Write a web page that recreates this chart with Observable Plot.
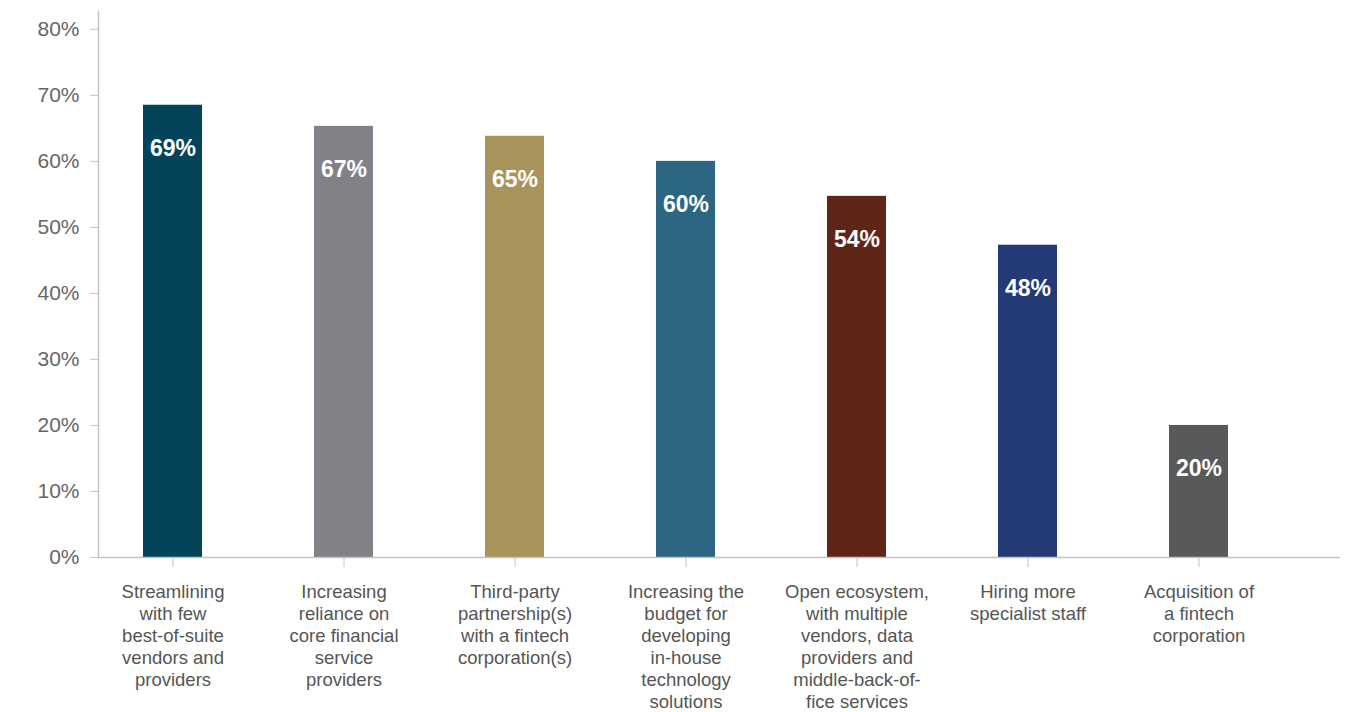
<!DOCTYPE html>
<html>
<head>
<meta charset="utf-8">
<script src="https://cdn.jsdelivr.net/npm/d3@7"></script>
<script src="https://cdn.jsdelivr.net/npm/@observablehq/plot@0.6"></script>
<style>
  html, body { margin: 0; padding: 0; background: #fff; }
  #chart svg { display: block; }
</style>
</head>
<body>
<div id="chart"></div>
<script>
const categories = [
  "Streamlining\nwith few\nbest-of-suite\nvendors and\nproviders",
  "Increasing\nreliance on\ncore financial\nservice\nproviders",
  "Third-party\npartnership(s)\nwith a fintech\ncorporation(s)",
  "Increasing the\nbudget for\ndeveloping\nin-house\ntechnology\nsolutions",
  "Open ecosystem,\nwith multiple\nvendors, data\nproviders and\nmiddle-back-of-\nfice services",
  "Hiring more\nspecialist staff",
  "Acquisition of\na fintech\ncorporation"
];
const values = [68.5, 65.3, 63.8, 60.0, 54.7, 47.3, 20.0];
const valueLabels = ["69%", "67%", "65%", "60%", "54%", "48%", "20%"];
const colors = ["#03445a", "#818287", "#a9955c", "#2d6683", "#5f2517", "#243a76", "#58595b"];
const yTicks = [0, 10, 20, 30, 40, 50, 60, 70, 80];

const data = categories.map((c, i) => ({category: c, value: values[i], label: valueLabels[i], color: colors[i]}));

const chart = Plot.plot({
  width: 1352,
  height: 712,
  marginLeft: 98,
  marginRight: 12,
  marginTop: 11,
  marginBottom: 155,
  style: {fontFamily: "'Liberation Sans', Arial, sans-serif", background: "#fff"},
  x: {domain: categories, padding: 0.657, range: [27.6, 1343.8], label: null},
  y: {domain: [0, 82.7], label: null},
  marks: [
    Plot.barY(data, {x: "category", y: "value", fill: "color"}),
    Plot.text(data, {x: "category", y: "value", text: "label", dy: 43, fill: "#fff",
      fontSize: 23, fontWeight: "bold"}),
    Plot.ruleY([0], {stroke: "#c4c4c4", strokeWidth: 1.5}),
    Plot.frame({anchor: "left", stroke: "#c4c4c4", strokeWidth: 1.5}),
    Plot.axisY(yTicks, {tickSize: 8, tickPadding: 11, tickFormat: d => d + "%",
      stroke: "#c4c4c4", fill: "#666", fontSize: 21, label: null}),
    Plot.axisX({tickSize: 10, tickPadding: 15, stroke: "#c4c4c4", fill: "#555",
      fontSize: 18.5, lineHeight: 1.19, label: null})
  ]
});
document.getElementById("chart").appendChild(chart);
</script>
</body>
</html>
